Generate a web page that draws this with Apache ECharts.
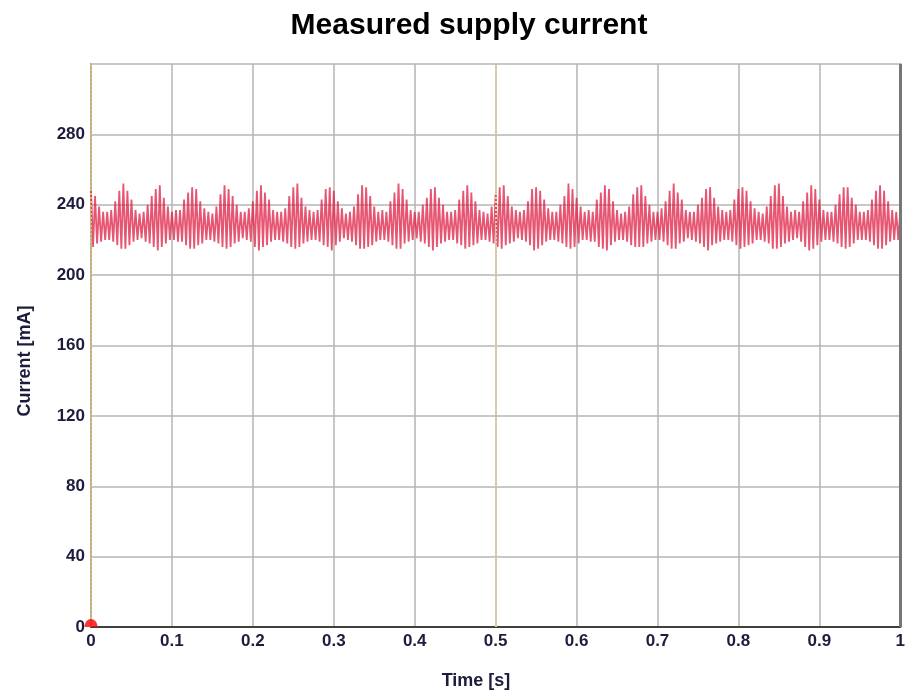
<!DOCTYPE html>
<html>
<head>
<meta charset="utf-8">
<title>Measured supply current</title>
<script src="https://cdn.jsdelivr.net/npm/echarts@6/dist/echarts.min.js"></script>
<style>
    html, body { margin: 0; padding: 0; background: #fff; }
    #chart { width: 908px; height: 693px; }
</style>
</head>
<body>
<div id="chart"></div>
<script>
// time axis ticks (s) and current ticks (mA)
const xTicks = [0, 0.1, 0.2, 0.3, 0.4, 0.5, 0.6, 0.7, 0.8, 0.9, 1]
const yTicks = [0, 40, 80, 120, 160, 200, 240, 280]

// samples are 2.5 ms apart, starting at t = 0
const sampleStep = 0.0025

// measured current (mA)
const current = [
    249, 216, 245, 218, 239, 219, 236, 220, 236, 220, 237, 219, 242, 217, 248, 215,
    252, 215, 248, 217, 243, 219, 237, 220, 235, 221, 236, 219, 240, 218, 245, 216, 249,
    214, 251, 216, 244, 218, 239, 220, 236, 220, 237, 219, 237, 219, 243, 217, 247, 215,
    250, 215, 249, 217, 242, 218, 238, 220, 236, 220, 235, 219, 239, 218, 246, 216, 251,
    215, 249, 216, 245, 218, 240, 219, 236, 221, 236, 220, 238, 219, 242, 216, 248, 214,
    251, 216, 247, 217, 243, 219, 237, 220, 236, 220, 236, 219, 238, 218, 245, 216, 250,
    215, 252, 216, 244, 218, 239, 219, 237, 220, 236, 220, 237, 219, 243, 217, 249, 216,
    250, 214, 248, 217, 242, 219, 238, 221, 235, 220, 236, 219, 239, 217, 246, 215, 251,
    215, 250, 216, 245, 217, 239, 219, 236, 220, 237, 220, 236, 219, 242, 217, 247, 215,
    252, 215, 249, 218, 243, 219, 237, 220, 236, 221, 236, 219, 240, 218, 244, 216, 249,
    214, 250, 216, 244, 218, 240, 219, 236, 220, 236, 220, 237, 218, 243, 217, 248, 215,
    251, 216, 247, 217, 242, 218, 237, 220, 236, 220, 235, 219, 239, 218, 246, 216, 250,
    215, 251, 217, 245, 218, 239, 219, 237, 221, 236, 220, 237, 219, 242, 217, 249, 214,
    250, 215, 248, 217, 243, 219, 238, 220, 236, 220, 236, 219, 240, 218, 245, 216, 252,
    215, 249, 216, 244, 218, 239, 220, 236, 220, 237, 219, 236, 219, 243, 216, 247, 215,
    251, 214, 249, 217, 242, 219, 237, 220, 235, 220, 236, 219, 239, 217, 246, 216, 250,
    216, 251, 216, 245, 218, 240, 219, 236, 220, 236, 220, 238, 219, 242, 217, 248, 215,
    252, 215, 247, 218, 243, 219, 237, 221, 236, 220, 236, 219, 240, 218, 244, 216, 249,
    214, 250, 217, 244, 218, 239, 219, 237, 220, 236, 220, 237, 219, 243, 217, 249, 215,
    250, 216, 248, 217, 242, 218, 238, 220, 236, 220, 235, 219, 239, 218, 245, 215, 251,
    215, 252, 216, 245, 218, 239, 219, 236, 220, 237, 221, 236, 219, 242, 216, 247, 214,
    251, 215, 249, 217, 243, 219, 237, 220, 236, 220, 236, 219, 240, 218, 246, 216, 250,
    215, 250, 216, 244, 218, 240, 220, 236, 220, 236, 220, 237, 219, 243, 217, 248, 215,
    251, 215, 248, 217, 242, 219, 237, 220, 236, 220, 236
]

const labelColor = '#1c1c3c'
const font = 'Liberation Sans, Arial, sans-serif'

const seriesData = current.map((v, i) => [i * sampleStep, v])

const myChart = echarts.init(document.getElementById('chart'))
myChart.setOption({
    animation: false,
    title: {
        text: 'Measured supply current',
        left: 464,
        top: 6,
        textAlign: 'center',
        textStyle: {
            fontFamily: font,
            fontSize: 30,
            fontWeight: 'bold',
            color: '#000',
        },
    },
    grid: {
        left: 91,
        right: 6,
        top: 64,
        bottom: 66,
        show: true,
        borderColor: '#9a9a9a',
        borderWidth: 2,
    },
    // axis titles sit a bit off the plot centre in the original
    graphic: [
        {
            type: 'text',
            x: 476,
            y: 681,
            style: {
                text: 'Time [s]',
                font: 'bold 18px ' + font,
                fill: labelColor,
                align: 'center',
                verticalAlign: 'middle',
            },
        },
        {
            type: 'text',
            x: 25,
            y: 361,
            rotation: Math.PI / 2,
            style: {
                text: 'Current [mA]',
                font: 'bold 18px ' + font,
                fill: labelColor,
                align: 'center',
                verticalAlign: 'middle',
            },
        },
    ],
    xAxis: {
        type: 'value',
        min: xTicks[0],
        max: xTicks[xTicks.length - 1],
        interval: 0.1,
        axisLine: { onZero: false, lineStyle: { color: '#404040', width: 2 } },
        axisTick: { show: false },
        axisLabel: {
            color: labelColor,
            fontFamily: font,
            fontSize: 17,
            fontWeight: 'bold',
            margin: 6,
            formatter: (v) => String(Math.round(v * 10) / 10),
        },
        splitLine: { show: true, lineStyle: { color: '#b4b4b4', width: 1.5 } },
    },
    yAxis: {
        type: 'value',
        min: 0,
        max: 320,
        interval: 40,
        axisLine: { show: false },
        axisTick: { show: false },
        axisLabel: {
            color: labelColor,
            fontFamily: font,
            fontSize: 17,
            fontWeight: 'bold',
            margin: 6,
            formatter: (v) => (yTicks.indexOf(v) >= 0 ? String(v) : ''),
        },
        splitLine: { show: true, lineStyle: { color: '#c8c8c8', width: 2 } },
    },
    series: [
        {
            name: 'Current',
            type: 'line',
            data: seriesData,
            symbol: 'none',
            sampling: null,
            lineStyle: { color: '#dc143c', width: 1.8, opacity: 0.72 },
            z: 3,
            markLine: {
                silent: true,
                symbol: 'none',
                label: { show: false },
                data: [
                    { xAxis: 0, lineStyle: { color: '#d8c060', type: 'dotted', width: 2, opacity: 1 } },
                    { xAxis: 0.5, lineStyle: { color: '#e6d28a', type: 'dotted', width: 2, opacity: 1 } },
                    { xAxis: 1, lineStyle: { color: '#777', type: 'solid', width: 3, opacity: 1 } },
                ],
            },
        },
        {
            // start marker at the origin
            type: 'scatter',
            data: [[0, 0]],
            symbol: 'path://M0,10 A10,10 0 0 1 20,10 Z',
            symbolSize: [13, 8],
            symbolOffset: [0, -4],
            itemStyle: { color: '#ff0000' },
            z: 5,
        },
    ],
})
</script>
</body>
</html>
